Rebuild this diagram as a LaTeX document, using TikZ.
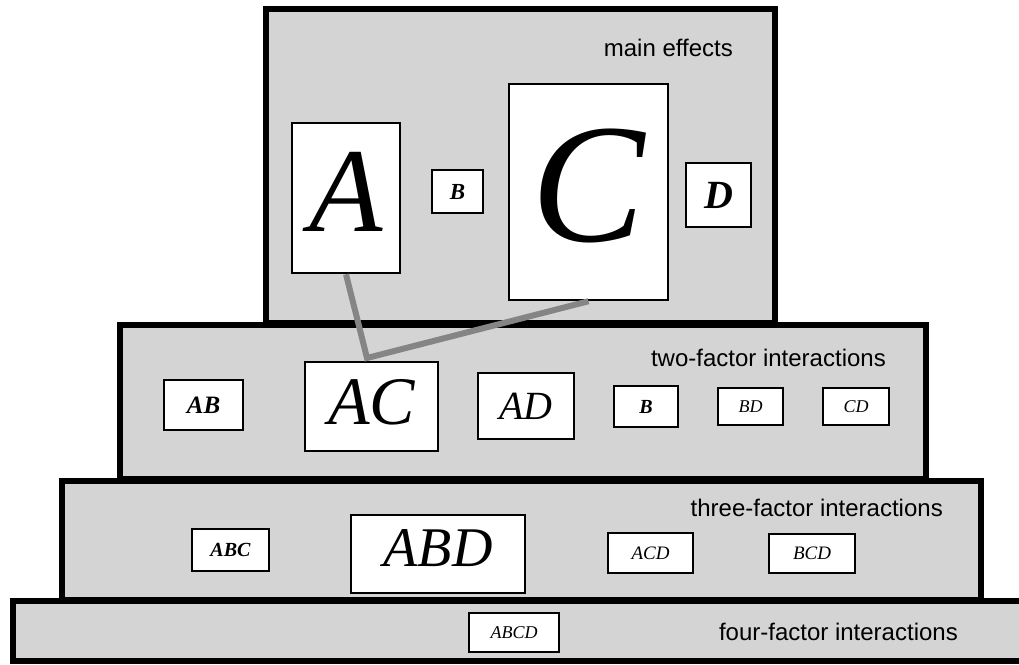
\documentclass[tikz,border=0pt]{standalone}
\usepackage{fontspec}
\setmainfont{Liberation Serif}
\setsansfont{Liberation Sans}
\usetikzlibrary{fit}
\definecolor{bg}{gray}{0.83}
\definecolor{conn}{gray}{0.52}
\begin{document}
\begin{tikzpicture}[x=1pt,y=-1pt,
  level/.style={draw=black,line width=6pt,fill=bg},
  ibox/.style={draw=black,line width=2.5pt,fill=white,inner sep=0pt},
  title/.style={anchor=east,font=\sffamily\fontsize{24}{24}\selectfont,inner sep=0pt},
  link/.style={draw=conn,line width=6pt},
  fs/.style={inner sep=0pt,font=\fontsize{#1}{#1}\selectfont\itshape},
  fsb/.style={inner sep=0pt,font=\fontsize{#1}{#1}\selectfont\bfseries\itshape}]
\useasboundingbox (0,0) rectangle (1019,664);
\clip (0,0) rectangle (1019,664);
% levels
\draw[level] (266,9) rectangle (775,323);
\draw[level] (120,325) rectangle (926,479);
\draw[level] (62,481) rectangle (981,600);
\draw[level] (13,601) rectangle (1040,661);
% titles
\node[title] (t1) at (733,48) {main effects};
\node[title] (t2) at (886,358) {two-factor interactions};
\node[title] (t3) at (943,508) {three-factor interactions};
\node[title] (t4) at (958,632) {four-factor interactions};
% main effects
\node[ibox,fit={(292,123) (400,273)}] (A) {};
\node[ibox,fit={(432,170) (483,213)}] (B) {};
\node[ibox,fit={(509,84) (668,300)}] (C) {};
\node[ibox,fit={(686,163) (751,227)}] (D) {};
\node[fs=120] (lA) at ([yshift=6]A.center) {A};
\node[fsb=23] (lB) at (B.center) {B};
\node[fs=170] (lC) at ([yshift=6]C.center) {C};
\node[fsb=40] (lD) at (D.center) {D};
% two-factor
\node[ibox,fit={(164,380) (243,430)}] (AB) {};
\node[ibox,fit={(305,362) (438,451)}] (AC) {};
\node[ibox,fit={(478,373) (574,439)}] (AD) {};
\node[ibox,fit={(614,386) (678,427)}] (B2) {};
\node[ibox,fit={(718,388) (783,425)}] (BD) {};
\node[ibox,fit={(823,388) (889,425)}] (CD) {};
\node[fsb=25] (lAB) at (AB.center) {AB};
\node[fs=68] (lAC) at ([yshift=4]AC.center) {AC};
\node[fs=40] (lAD) at (AD.center) {AD};
\node[fsb=20] (lB2) at (B2.center) {B};
\node[fs=18] (lBD) at (BD.center) {BD};
\node[fs=18] (lCD) at (CD.center) {CD};
% three-factor
\node[ibox,fit={(192,529) (269,571)}] (ABC) {};
\node[ibox,fit={(351,515) (525,593)}] (ABD) {};
\node[ibox,fit={(608,533) (693,573)}] (ACD) {};
\node[ibox,fit={(769,534) (855,573)}] (BCD) {};
\node[fsb=20] (lABC) at (ABC.center) {ABC};
\node[fs=56] (lABD) at ([yshift=6]ABD.center) {ABD};
\node[fs=19] (lACD) at (ACD.center) {ACD};
\node[fs=19] (lBCD) at (BCD.center) {BCD};
% four-factor
\node[ibox,fit={(469,613) (559,652)}] (ABCD) {};
\node[fs=18] (lABCD) at (ABCD.center) {ABCD};
% connector
\coordinate (j) at (367,358);
\draw[link] (A.south) -- (j) -- (C.south);
\end{tikzpicture}
\end{document}
